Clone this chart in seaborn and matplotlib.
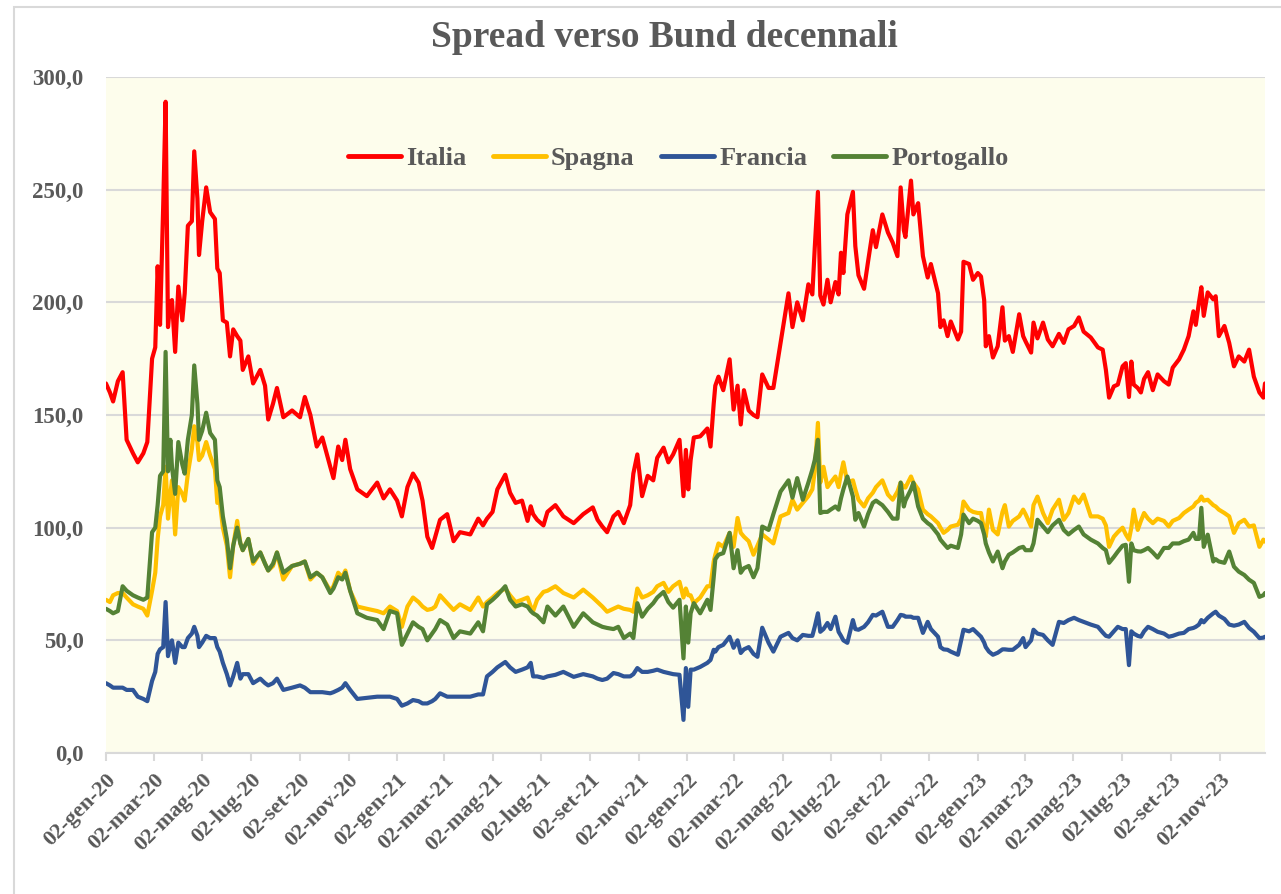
#!/usr/bin/env python3

from matplotlib import pyplot as plt
from matplotlib.patches import Rectangle
import pandas as pd
import seaborn as sns


# spread (bp) vs 10y Bund
dates = [
    "2020-01-02", "2020-01-07", "2020-01-11", "2020-01-17", "2020-01-23", "2020-01-28", "2020-02-05", "2020-02-11", "2020-02-18", "2020-02-23",
    "2020-02-29", "2020-03-04", "2020-03-07", "2020-03-10", "2020-03-14", "2020-03-17", "2020-03-20", "2020-03-23", "2020-03-25", "2020-03-29",
    "2020-04-02", "2020-04-07", "2020-04-10", "2020-04-14", "2020-04-19", "2020-04-22", "2020-04-26", "2020-04-28", "2020-05-02", "2020-05-07",
    "2020-05-12", "2020-05-18", "2020-05-21", "2020-05-24", "2020-05-28", "2020-06-02", "2020-06-06", "2020-06-10", "2020-06-15", "2020-06-19",
    "2020-06-22", "2020-06-29", "2020-07-05", "2020-07-14", "2020-07-20", "2020-07-24", "2020-07-30", "2020-08-04", "2020-08-12", "2020-08-23",
    "2020-09-02", "2020-09-08", "2020-09-15", "2020-09-23", "2020-09-30", "2020-10-10", "2020-10-14", "2020-10-20", "2020-10-25", "2020-10-29",
    "2020-11-04", "2020-11-13", "2020-11-25", "2020-12-08", "2020-12-16", "2020-12-24", "2021-01-02", "2021-01-08", "2021-01-15", "2021-01-22",
    "2021-01-29", "2021-02-03", "2021-02-09", "2021-02-15", "2021-02-19", "2021-02-25", "2021-03-06", "2021-03-14", "2021-03-22", "2021-04-04",
    "2021-04-14", "2021-04-20", "2021-04-25", "2021-05-02", "2021-05-08", "2021-05-18", "2021-05-24", "2021-05-31", "2021-06-08", "2021-06-15",
    "2021-06-19", "2021-06-22", "2021-06-27", "2021-07-05", "2021-07-10", "2021-07-20", "2021-07-30", "2021-08-12", "2021-08-24", "2021-09-05",
    "2021-09-11", "2021-09-17", "2021-09-23", "2021-10-01", "2021-10-07", "2021-10-14", "2021-10-22", "2021-10-26", "2021-10-31", "2021-11-06",
    "2021-11-13", "2021-11-20", "2021-11-25", "2021-12-03", "2021-12-09", "2021-12-15", "2021-12-23", "2021-12-28", "2021-12-31", "2022-01-03",
    "2022-01-06", "2022-01-10", "2022-01-18", "2022-01-27", "2022-01-31", "2022-02-04", "2022-02-06", "2022-02-10", "2022-02-16", "2022-02-24",
    "2022-03-01", "2022-03-06", "2022-03-10", "2022-03-14", "2022-03-20", "2022-03-26", "2022-03-31", "2022-04-06", "2022-04-14", "2022-04-20",
    "2022-04-29", "2022-05-09", "2022-05-14", "2022-05-20", "2022-05-27", "2022-06-03", "2022-06-08", "2022-06-11", "2022-06-15", "2022-06-18",
    "2022-06-22", "2022-06-27", "2022-07-01", "2022-07-07", "2022-07-11", "2022-07-14", "2022-07-17", "2022-07-22", "2022-07-29", "2022-08-01",
    "2022-08-05", "2022-08-12", "2022-08-17", "2022-08-23", "2022-08-27", "2022-09-04", "2022-09-11", "2022-09-17", "2022-09-23", "2022-09-27",
    "2022-10-01", "2022-10-03", "2022-10-10", "2022-10-13", "2022-10-19", "2022-10-25", "2022-10-31", "2022-11-04", "2022-11-13", "2022-11-16",
    "2022-11-20", "2022-11-25", "2022-11-29", "2022-12-08", "2022-12-12", "2022-12-15", "2022-12-22", "2022-12-27", "2023-01-02", "2023-01-06",
    "2023-01-10", "2023-01-12", "2023-01-16", "2023-01-21", "2023-01-27", "2023-02-02", "2023-02-05", "2023-02-10", "2023-02-15", "2023-02-23",
    "2023-02-28", "2023-03-03", "2023-03-10", "2023-03-13", "2023-03-18", "2023-03-25", "2023-03-31", "2023-04-06", "2023-04-14", "2023-04-20",
    "2023-04-26", "2023-05-03", "2023-05-09", "2023-05-15", "2023-05-24", "2023-06-02", "2023-06-08", "2023-06-12", "2023-06-16", "2023-06-22",
    "2023-06-27", "2023-07-03", "2023-07-07", "2023-07-11", "2023-07-14", "2023-07-17", "2023-07-22", "2023-07-26", "2023-07-30", "2023-08-04",
    "2023-08-10", "2023-08-16", "2023-08-24", "2023-08-30", "2023-09-04", "2023-09-12", "2023-09-18", "2023-09-24", "2023-09-30", "2023-10-03",
    "2023-10-07", "2023-10-10", "2023-10-13", "2023-10-18", "2023-10-25", "2023-10-28", "2023-11-01", "2023-11-08", "2023-11-14", "2023-11-20",
    "2023-11-26", "2023-12-03", "2023-12-09", "2023-12-15", "2023-12-22", "2023-12-27", "2023-12-29",
]

italia = [
    164, 160, 156, 165, 169, 139, 133, 129, 133, 138,
    175, 180, 216, 190, 243, 289, 189, 200, 201, 178,
    207, 192, 204, 234, 236, 267, 246, 221, 236, 251,
    240, 237, 215, 213, 192, 191, 176, 188, 185, 183,
    170, 176, 164, 170, 163, 148, 155, 162, 149, 152,
    149, 158, 150, 136, 140, 127, 122, 136, 130, 139,
    126, 117, 114, 120, 113, 117, 112, 105, 118, 124,
    120, 112, 96, 91, 96, 103.5, 106, 94, 98, 97,
    104, 101, 104, 107, 117, 123.5, 115.5, 111, 112, 103,
    109.5, 106, 103.5, 101, 107, 110, 105, 102, 106, 109,
    103.5, 100.5, 98, 105, 107, 102, 110, 124, 132.5, 114,
    123, 121, 131, 135.5, 129, 132.5, 139, 114, 134.5, 117,
    130, 140, 140.5, 144, 136, 155, 163, 167, 161, 174.7,
    152.4, 163, 145.8, 161, 152, 150, 149, 168, 162, 162,
    182, 204, 189, 200, 192, 208, 203.5, 224, 249, 203,
    199, 210, 200, 209, 203.5, 222, 213, 239, 249, 225,
    212, 206, 218, 232, 224.5, 239, 231, 226.5, 220.5, 251,
    232, 229, 254, 239, 244, 220.5, 211, 217, 204, 189,
    192, 185, 191.5, 183.5, 187, 218, 217, 210, 213, 211.5,
    201, 180.5, 185, 175.5, 180.5, 197.8, 183, 185, 178, 194.7,
    185, 182.7, 177.7, 191, 184, 191, 183.5, 180.5, 186, 182,
    188, 189.5, 193.3, 187, 184.4, 180, 179, 170, 157.7, 162.7,
    163.5, 171.6, 173, 158, 173.7, 163.5, 162, 160, 166, 169,
    161, 168, 165, 163.5, 171, 174.7, 179, 185, 196, 190,
    200, 206.7, 194, 204.4, 201.3, 202.7, 185, 189.5, 182, 171.6,
    176, 173.7, 179, 167, 160, 157.7, 164,
]

spagna = [
    68, 67, 70, 71, 71, 69, 66, 65, 64, 61,
    72, 80, 95, 105, 110, 127, 104, 115, 121, 97,
    118, 115, 112, 124, 135, 145, 138, 130, 132, 138,
    132, 126, 111, 112, 100, 92, 78, 92, 103, 93,
    90, 95, 84, 89, 84, 81, 83, 89, 77, 83,
    84, 85, 77, 80, 78, 72, 74, 80, 78, 81,
    72, 65, 64, 63, 62, 65, 63, 56, 65, 69,
    67, 65, 63.5, 64, 65, 70, 66.5, 63.5, 66, 63.5,
    69, 65, 67, 69, 71, 73, 70, 67, 68, 69,
    65, 63, 68, 71.5, 72, 74, 71, 69, 72.5, 69,
    67, 65, 62.7, 64, 65, 64, 63.5, 62.7, 73, 69,
    70, 71.5, 74, 75.5, 71.5, 74, 76, 69, 73, 70,
    70, 66.5, 69, 74, 74, 85, 88, 93, 91.5, 97.7,
    91.5, 104.3, 97.7, 96, 94, 88, 92, 97, 94.7, 93,
    105, 106.5, 112.4, 108, 111, 114, 117, 125, 146.5, 120,
    127, 118, 120, 122.7, 118, 124, 129, 120, 121, 117,
    112.4, 109.4, 113, 115.5, 118, 121, 114.7, 112.4, 116, 120,
    118, 117.8, 122.7, 120, 117, 108, 106, 105, 102, 100,
    97.7, 99, 100.5, 101.3, 104, 111.6, 108, 107, 106.5, 106.5,
    99, 96, 108, 99, 97, 107, 110, 100.5, 103, 105,
    108, 106, 100.5, 110, 113.8, 106.5, 102, 108, 112.4, 103.5,
    106.5, 113.8, 111, 114.7, 105, 105, 104, 101, 91.5, 96,
    98, 100, 97, 94.7, 100, 108, 99, 103, 106.5, 104,
    102, 104, 103, 100.5, 103, 104.3, 106.5, 108, 109.4, 111,
    112, 113.8, 112, 112.4, 110, 109.4, 108, 106.5, 105, 97.7,
    102, 103.5, 100.5, 101, 91.5, 94.7, 93.8,
]

francia = [
    31, 30, 29, 29, 29, 28, 28, 25, 24, 23,
    32, 36, 44, 46, 47, 67, 43, 48, 50, 40,
    49, 47, 47, 51, 53, 56, 52, 47, 49, 52,
    51, 51, 47, 45, 40, 35, 30, 34, 40, 33,
    35, 35, 31, 33, 31, 30, 31, 33, 28, 29,
    30, 29, 27, 27, 27, 26.5, 27, 28, 29, 31,
    28, 24, 24.5, 25, 25, 25, 24, 21, 22, 23.5,
    23, 22, 22, 23, 24, 26.5, 25, 25, 25, 25,
    26, 26, 34, 36, 38, 40.4, 38, 36, 37, 38,
    40, 34, 34, 33.3, 34, 34.7, 36, 33.8, 35, 34,
    33, 32.4, 33, 35.5, 35, 34, 34, 35, 37.7, 36,
    36, 36.5, 37, 36, 35.5, 35, 34.7, 14.7, 37.7, 20.5,
    37, 37, 38.2, 40, 41.3, 45.8, 45, 47, 48, 51.6,
    46.7, 50, 44.4, 46, 47, 44, 42.7, 55.6, 48.9, 45,
    51.6, 53.3, 51, 50, 52.4, 52, 52, 56, 62, 53.8,
    55, 57.7, 55, 60.5, 53.8, 52, 50, 48.9, 59, 55,
    54.7, 56, 58, 61.3, 61, 62.7, 56, 56, 59, 61.3,
    61, 60.5, 60.5, 60, 60, 53.3, 58.2, 55, 51.6, 47,
    46, 45.8, 45, 43.6, 50, 54.7, 54, 55, 53, 51.6,
    49, 47, 45, 43.6, 44.5, 46, 46, 45.8, 45.8, 48,
    51, 47, 50, 54.7, 53, 52.4, 50, 48, 58.2, 57.7,
    59, 60, 59, 58.2, 57, 56, 53.5, 52, 51.6, 54,
    56, 55, 55, 39, 54, 53, 52, 51.6, 54, 56,
    55, 53.8, 53, 51.6, 52, 53, 53.3, 55, 55.5, 56,
    57, 59, 58, 60, 62, 62.7, 61, 59.5, 57, 56.5,
    57, 58.2, 55.5, 53.8, 51, 51.2, 51.6,
]

portogallo = [
    64, 63, 62, 63, 74, 72, 70, 69, 68, 69,
    98, 100, 110, 123, 125, 178, 125, 139, 127, 115,
    138, 128, 124, 139, 150, 172, 155, 139, 143, 151,
    142, 139, 121, 118, 105, 95, 82, 92, 100, 93,
    90, 95, 85, 89, 84, 81, 84, 89, 80, 83,
    84, 85, 78, 80, 78, 71, 73, 78, 77, 80,
    72, 62, 60, 59, 55, 63, 62, 48, 53, 58,
    56, 55, 50, 53, 55, 59, 57, 51, 54, 53,
    58, 54, 66, 68, 70, 74, 68, 65, 66, 65,
    63, 62, 61, 58, 65, 61, 65, 56, 62, 58,
    57, 56, 55.5, 55, 56, 51, 53, 51, 66.5, 60.5,
    64, 66.5, 69, 71.5, 67, 64.5, 68, 42, 65, 49,
    62, 66.5, 62, 68, 63.5, 78, 86, 88, 88.7, 97.7,
    82, 90, 80, 82, 83, 78, 82, 100.5, 99, 106,
    116, 121, 113.3, 122, 112.4, 120, 125.8, 130, 139, 106.5,
    107, 107, 108, 109.4, 108, 113, 117, 122.7, 113.8, 103.5,
    106.5, 100.5, 106, 111, 112, 110, 107, 104, 104, 120,
    109.4, 112, 117, 120, 109.4, 104, 102, 101, 97, 94.7,
    93, 91, 92, 91, 97, 105.8, 102, 104, 103, 102,
    97, 93, 89, 85, 89.4, 82, 85, 88, 89, 91,
    91.5, 90, 90, 93, 103.5, 100.5, 98, 101, 103.5, 99,
    97, 99, 100.5, 97, 94.7, 93, 91, 90, 84.4, 87,
    89.4, 92, 92.4, 76, 93, 90, 89.5, 89.4, 90, 91,
    89, 86.7, 91, 91, 93, 93, 94, 94.7, 97.7, 95,
    95, 108.8, 91.5, 96.9, 85, 86, 85, 84.4, 89.4, 82.7,
    80.5, 79, 76.9, 75.5, 69.3, 70, 71,
]

paesi = ["Italia", "Spagna", "Francia", "Portogallo"]
colori = ["#FF0000", "#FFC000", "#2F5597", "#548235"]

tick_labels = [
    "02-gen-20", "02-mar-20", "02-mag-20", "02-lug-20", "02-set-20", "02-nov-20",
    "02-gen-21", "02-mar-21", "02-mag-21", "02-lug-21", "02-set-21", "02-nov-21",
    "02-gen-22", "02-mar-22", "02-mag-22", "02-lug-22", "02-set-22", "02-nov-22",
    "02-gen-23", "02-mar-23", "02-mag-23", "02-lug-23", "02-set-23", "02-nov-23",
]
y_ticks = [0, 50, 100, 150, 200, 250, 300]
y_labels = ["0,0", "50,0", "100,0", "150,0", "200,0", "250,0", "300,0"]

MESI = {"gen": 1, "feb": 2, "mar": 3, "apr": 4, "mag": 5, "giu": 6,
        "lug": 7, "ago": 8, "set": 9, "ott": 10, "nov": 11, "dic": 12}

GRIGIO = "#595959"
LINEA = "#D9D9D9"


def tick_date(label):
    d, m, y = label.split("-")
    return pd.Timestamp(2000 + int(y), MESI[m], int(d))


def main():
    df = pd.DataFrame({
        "data": pd.to_datetime(dates),
        "Italia": italia,
        "Spagna": spagna,
        "Francia": francia,
        "Portogallo": portogallo,
    })
    df_long = df.melt(id_vars="data", var_name="paese", value_name="spread")

    sns.set_theme(style="white")
    plt.rcParams["font.family"] = ["Liberation Serif", "DejaVu Serif"]
    plt.rcParams["font.weight"] = "bold"

    fig = plt.figure(figsize=(12.81, 8.94), dpi=100)
    fig.patches.append(Rectangle((0.0109, -0.05), 1.1, 1.042, transform=fig.transFigure,
                                 fill=False, edgecolor=LINEA, linewidth=1.5))
    ax = fig.add_axes([0.0827, 0.1577, 0.9048, 0.7562])
    ax.set_facecolor("#FDFDEC")
    ax.set_axisbelow(True)

    sns.lineplot(data=df_long, x="data", y="spread", hue="paese",
                 hue_order=paesi, palette=dict(zip(paesi, colori)),
                 linewidth=3, estimator=None, ax=ax)

    ax.set_xlim(pd.Timestamp("2020-01-02"), pd.Timestamp("2023-12-29"))
    ax.set_ylim(0, 300)
    ax.set_xlabel("")
    ax.set_ylabel("")

    ax.set_yticks(y_ticks)
    ax.set_yticklabels(y_labels, fontsize=16.5, fontweight="bold", color=GRIGIO)
    ax.set_xticks([tick_date(l) for l in tick_labels])
    ax.set_xticklabels(tick_labels, rotation=45, ha="right", rotation_mode="anchor",
                       fontsize=16, fontweight="bold", color=GRIGIO)
    ax.tick_params(axis="y", length=0, pad=16)
    ax.tick_params(axis="x", direction="out", length=6, width=1.5, color=LINEA,
                   pad=6, bottom=True)

    ax.yaxis.grid(True, color=LINEA, linewidth=1.5)
    ax.xaxis.grid(False)
    for s in ["top", "right", "left"]:
        ax.spines[s].set_visible(False)
    ax.spines["bottom"].set_color(LINEA)
    ax.spines["bottom"].set_linewidth(1.5)

    handles, labels = ax.get_legend_handles_labels()
    leg = ax.legend(handles=handles, labels=labels, loc="center",
                    bbox_to_anchor=(0.494, 0.88), ncol=4, frameon=False,
                    prop={"weight": "bold", "size": 19}, labelcolor=GRIGIO,
                    handlelength=2.0, handletextpad=0.2, columnspacing=1.0)
    for h in leg.get_lines():
        h.set_linewidth(3.5)

    fig.text(0.519, 0.958, "Spread verso Bund decennali", ha="center", va="center",
             fontsize=27, fontweight="bold", color=GRIGIO)

    fig.savefig("out.png", dpi=100)


if __name__ == "__main__":
    main()
